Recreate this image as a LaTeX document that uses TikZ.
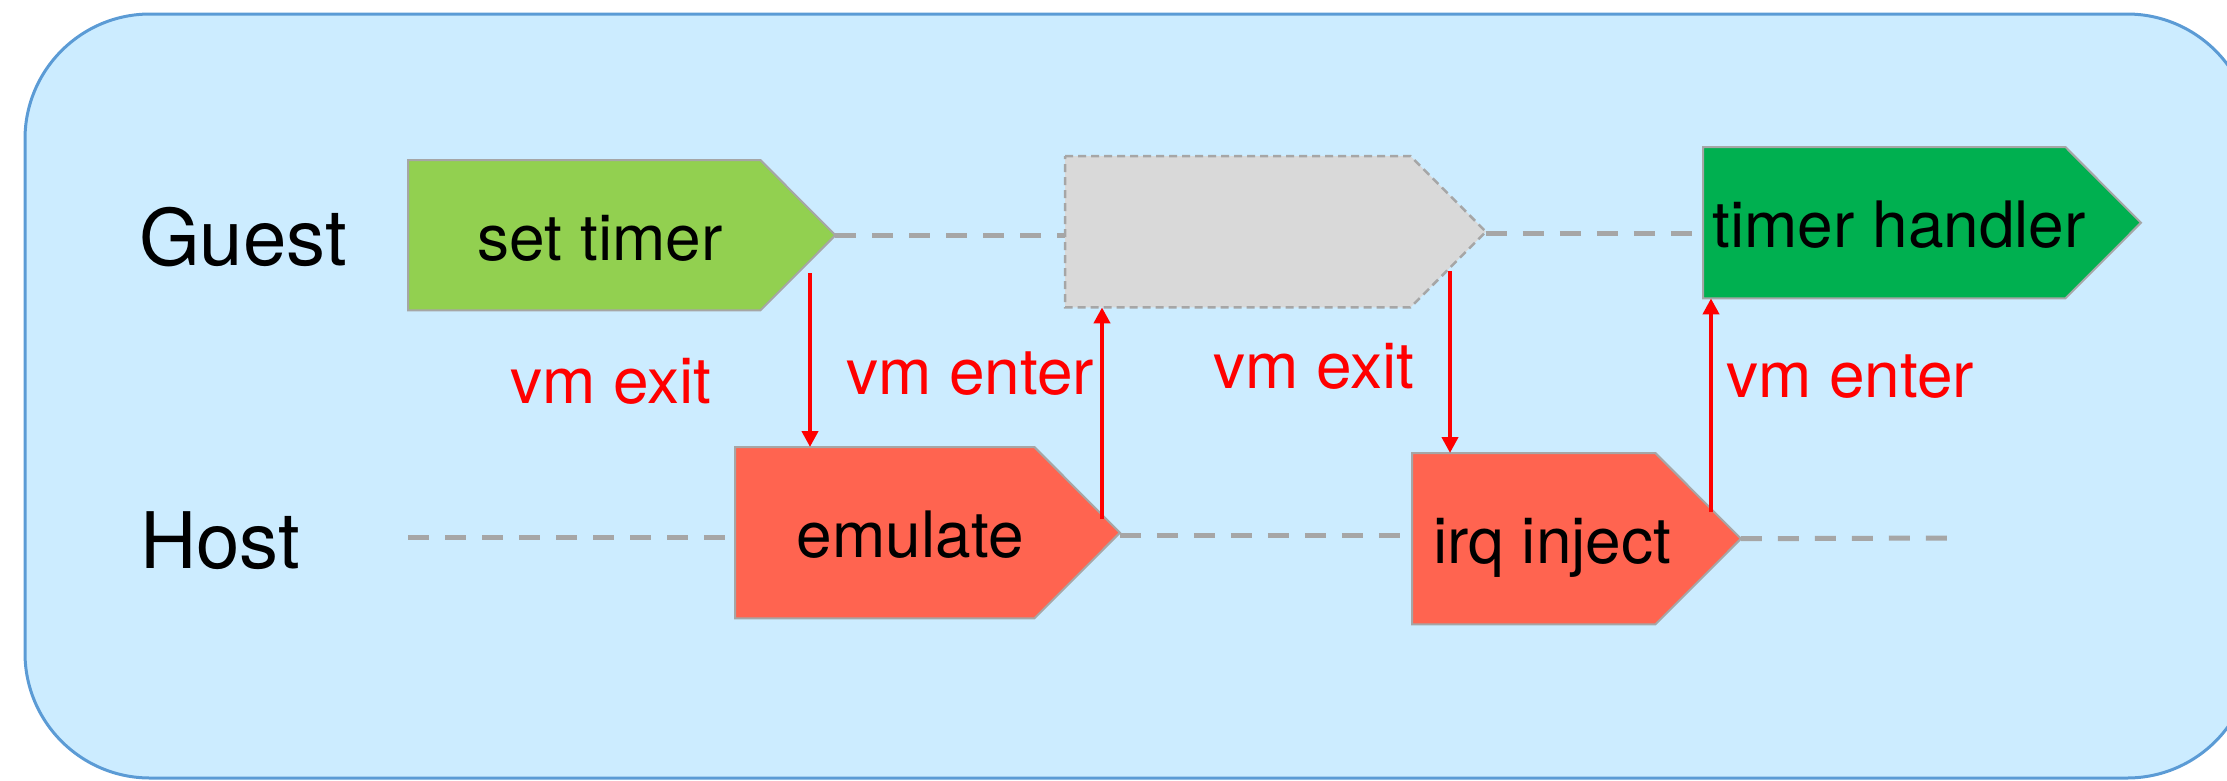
\documentclass[tikz,border=0pt]{standalone}
\usepackage{fontspec}
\setmainfont{TeX Gyre Heros}
\usetikzlibrary{calc,arrows.meta}
\pgfdeclarelayer{shapes}
\pgfsetlayers{shapes,main}
\definecolor{bgfill}{HTML}{CCECFF}
\definecolor{bgline}{HTML}{5B9BD5}
\definecolor{boxline}{HTML}{A6A6A6}
\definecolor{lightgreen}{HTML}{92D050}
\definecolor{darkgreen}{HTML}{00B050}
\definecolor{boxred}{HTML}{FF6450}
\definecolor{ghost}{HTML}{D9D9D9}
\definecolor{vmred}{HTML}{FF0000}
\newcommand{\pentpath}[3]{\path[#2] (#1.north west) -- (#1.north east) -- ($(#1.east)+(#3,0)$) -- (#1.south east) -- (#1.south west) -- cycle;}
\newcommand{\shiftedtext}[2]{\makebox[0pt]{\hspace*{#1pt}#2}}
\begin{document}
\begin{tikzpicture}[x=1pt,y=-1pt,
  body/.style={inner sep=0pt, anchor=north west, font=\fontsize{64}{70}\selectfont, text height=50pt, text depth=0pt},
  lanelbl/.style={inner sep=0pt, anchor=base west, font=\fontsize{78}{84}\selectfont},
  vmlbl/.style={inner sep=0pt, anchor=base west, text=vmred, font=\fontsize{64}{70}\selectfont},
  solidbox/.style={draw=boxline, line width=2pt},
  ghostbox/.style={draw=boxline, line width=2.5pt, fill=ghost, dash pattern=on 8pt off 5pt},
  lane/.style={draw=boxline, line width=5pt, dash pattern=on 21pt off 16pt},
  redarr/.style={draw=vmred, line width=4.5pt, -{Triangle[length=16pt,width=16pt]}}]
\useasboundingbox (0,0) rectangle (2227,780);
\clip (0,0) rectangle (2227,780);
\begin{pgfonlayer}{shapes}
\path[fill=bgfill, draw=bgline, line width=3pt, rounded corners=125pt] (25,14) rectangle (2252,778);
\end{pgfonlayer}

% lane labels
\node[lanelbl] (guest) at (139,265) {Guest};
\node[lanelbl] (host) at (140,568) {Host};

% boxes (body rectangles)
\node[body, minimum width=352, minimum height=150] (st) at (408,160) {\shiftedtext{32}{set timer}};
\node[body, minimum width=345, minimum height=151] (gb) at (1065,156) {};
\node[body, minimum width=362, minimum height=151] (th) at (1703,147) {\shiftedtext{30}{timer handler}};
\node[body, minimum width=299, minimum height=171] (em) at (735,447) {\shiftedtext{51}{emulate}};
\node[body, minimum width=243, minimum height=171] (ii) at (1412,453) {\shiftedtext{37}{irq inject}};

\begin{pgfonlayer}{shapes}
\pentpath{st}{solidbox, fill=lightgreen}{75}
\pentpath{gb}{ghostbox}{75.5}
\pentpath{th}{solidbox, fill=darkgreen}{75.5}
\pentpath{em}{solidbox, fill=boxred}{85.5}
\pentpath{ii}{solidbox, fill=boxred}{85.5}
\end{pgfonlayer}

% tips
\coordinate (sttip) at ($(st.east)+(75,0)$);
\coordinate (gbtip) at ($(gb.east)+(75.5,2)$);
\coordinate (emtip) at ($(em.east)+(85.5,3)$);
\coordinate (iitip) at ($(ii.east)+(85.5,0)$);
\coordinate (hs) at (408,537);
\coordinate (he) at (1960,538);

% dashed lanes
\draw[lane] (sttip) -- (sttip -| gb.west);
\draw[lane] (gbtip) -- (gbtip -| th.west);
\draw[lane] (hs) -- (hs -| em.west);
\draw[lane] (emtip) -- (emtip -| ii.west);
\draw[lane] (iitip) -- (he);

% vm exit / enter arrows
\coordinate (a1) at (810,273);
\coordinate (a2) at (1102,519);
\coordinate (a3) at (1450,271);
\coordinate (a4) at (1711,512);
\draw[redarr] (a1) -- (a1 |- em.north);
\draw[redarr] (a2) -- (a2 |- gb.south);
\draw[redarr] (a3) -- (a3 |- ii.north);
\draw[redarr] (a4) -- (a4 |- th.south);

% labels
\node[vmlbl] (exit1) at (510,403) {vm exit};
\node[vmlbl] (enter1) at (846,394) {vm enter};
\node[vmlbl] (exit2) at (1213,388) {vm exit};
\node[vmlbl] (enter2) at (1726,397) {vm enter};
\end{tikzpicture}
\end{document}
